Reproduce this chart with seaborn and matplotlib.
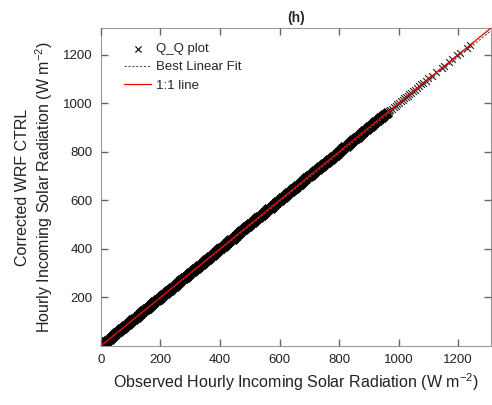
import numpy as np
import pandas as pd
import matplotlib
matplotlib.use("Agg")
import matplotlib.pyplot as plt
import seaborn as sns

# quantiles (W m-2)
observed_q = [
    0, 8, 15, 22, 30, 38, 45, 52, 60, 68, 75, 82, 90, 98, 105, 112, 120, 128, 135, 142,
    150, 158, 165, 172, 180, 188, 195, 202, 210, 218, 225, 232, 240, 248, 255, 262, 270,
    278, 285, 292, 300, 308, 315, 322, 330, 338, 345, 352, 360, 368, 375, 382, 390, 398,
    405, 412, 420, 428, 435, 442, 450, 458, 465, 472, 480, 488, 495, 502, 510, 518, 525,
    532, 540, 548, 555, 562, 570, 578, 585, 592, 600, 608, 615, 622, 630, 638, 645, 652,
    660, 668, 675, 682, 690, 698, 705, 712, 720, 728, 735, 742, 750, 758, 765, 772, 780,
    788, 795, 802, 810, 818, 825, 832, 840, 848, 855, 862, 870, 878, 885, 892, 900, 908,
    915, 922, 930, 938, 945, 952, 960, 966, 972, 978, 984, 990, 996, 1002,
    1008, 1013, 1018, 1024, 1030, 1036, 1041, 1047, 1055, 1061, 1068, 1076, 1083,
    1092, 1100, 1112, 1125, 1146, 1152, 1170, 1178, 1196, 1205, 1228, 1240,
]
corrected_q = [
    0, 8, 15, 22, 30, 38, 45, 52, 60, 68, 75, 82, 90, 98, 105, 112, 120, 128, 135, 142,
    150, 158, 165, 172, 180, 188, 195, 202, 210, 218, 225, 232, 240, 248, 255, 262, 270,
    278, 285, 292, 300, 308, 315, 322, 330, 338, 345, 352, 360, 368, 375, 382, 390, 398,
    405, 412, 420, 428, 435, 442, 450, 458, 465, 472, 480, 488, 495, 502, 510, 518, 525,
    532, 540, 548, 555, 562, 570, 578, 585, 592, 600, 608, 615, 622, 630, 638, 645, 652,
    660, 668, 675, 682, 690, 698, 705, 712, 720, 728, 735, 742, 750, 758, 765, 772, 780,
    788, 795, 802, 810, 818, 825, 832, 840, 848, 855, 862, 870, 878, 885, 892, 900, 908,
    915, 922, 930, 938, 945, 952, 960, 966, 972, 978, 984, 990, 996, 1002,
    1009, 1014, 1020, 1026, 1031, 1038, 1043, 1049, 1056, 1063, 1070, 1077, 1085,
    1093, 1102, 1113, 1127, 1147, 1154, 1171, 1180, 1197, 1207, 1229, 1241,
]
fit_slope = 0.992
fit_intercept = -0.5
line_x = [0, 1310]

sns.set_theme(style="ticks")
plt.rcParams["font.family"] = ["Liberation Sans", "DejaVu Sans"]
plt.rcParams["mathtext.fontset"] = "custom"
plt.rcParams["mathtext.rm"] = "Liberation Sans"
plt.rcParams["mathtext.it"] = "Liberation Sans"

fig = plt.figure(figsize=(4.92, 4.05), dpi=100)
ax = fig.add_axes([0.205, 0.146, 0.793, 0.785])
ax.set_axisbelow(False)

qq = pd.DataFrame({"obs": observed_q, "cor": corrected_q})
dense = qq[qq["obs"] <= 960]
tail = qq[qq["obs"] > 960]
# dense part overlaps into a solid band, tail quantiles are spread out
sns.scatterplot(data=dense, x="obs", y="cor", marker="x", color="black", s=36,
                linewidth=2.8, ax=ax, label="Q_Q plot", zorder=2)
sns.scatterplot(data=tail, x="obs", y="cor", marker="x", color="#222222", s=24,
                linewidth=0.8, ax=ax, zorder=2)

fit_y = [fit_slope * v + fit_intercept for v in line_x]
sns.lineplot(x=line_x, y=fit_y, color="#555555", linestyle=(0, (2, 1.5)), linewidth=0.8,
             ax=ax, label="Best Linear Fit", zorder=3)
sns.lineplot(x=line_x, y=line_x, color="red", linewidth=0.9, ax=ax, label="1:1 line", zorder=4)

ax.set_xlim(0, 1310)
ax.set_ylim(0, 1310)
ax.set_xticks([0, 200, 400, 600, 800, 1000, 1200])
ax.set_yticks([200, 400, 600, 800, 1000, 1200])
ax.tick_params(axis="both", which="major", direction="in", length=5, width=1.0,
               color="#666666", labelcolor="#222222", labelsize=9.5, pad=6,
               bottom=True, left=True, top=True, right=True)
for sp in ax.spines.values():
    sp.set_visible(True)
    sp.set_color("#999999")
    sp.set_linewidth(0.8)

ax.set_xlabel("Observed Hourly Incoming Solar Radiation (W m$^{\\mathrm{-2}}$)", fontsize=11.5,
              color="#222222")
ax.set_ylabel("Corrected WRF CTRL\nHourly Incoming Solar Radiation (W m$^{\\mathrm{-2}}$)",
              fontsize=11.5, color="#222222", labelpad=6)
ax.set_title("(h)", fontsize=10, fontweight="bold", pad=4)

leg = ax.legend(loc="upper left", frameon=False, fontsize=9.5, handlelength=2.0,
                handletextpad=0.4, labelspacing=0.45, borderaxespad=0.5,
                bbox_to_anchor=(0.03, 0.99))
leg.legend_handles[0].set_linewidth(0.8)
leg.legend_handles[0].set_sizes([20])

fig.savefig("out.png", dpi=100)
